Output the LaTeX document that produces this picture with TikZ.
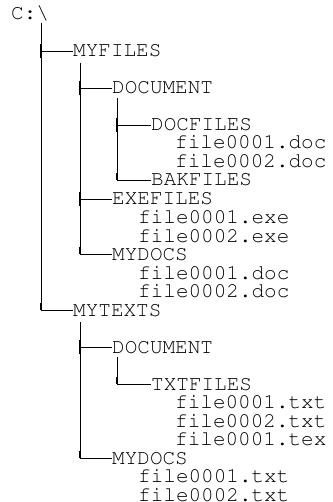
\documentclass[tikz,border=0pt]{standalone}
\usepackage[T1]{fontenc}
\newcommand\dirfont{\fontencoding{T1}\fontfamily{pcr}\fontseries{m}\fontshape{n}\fontsize{21}{21}\selectfont}
\tikzset{
  entry/.style={anchor=base west, inner sep=0pt, font=\dirfont, text height=12pt, text depth=0pt},
  tree/.style={line width=0.9pt, black},
  tick/.style={line width=2pt, black},
}
\begin{document}
\begin{tikzpicture}[x=1pt,y=1pt]
\useasboundingbox (0,0) rectangle (332,-502);

% directory entries
\node[entry] (root) at (11,-20) {C:\textbackslash};
\node[entry] (myfiles) at (73,-57) {MYFILES};
\node[entry] (document) at (112,-94) {DOCUMENT};
\node[entry] (docfiles) at (151,-131) {DOCFILES};
\node[entry] (dfa) at (175,-149) {file0001.doc};
\node[entry] (dfb) at (175,-168) {file0002.doc};
\node[entry] (bakfiles) at (151,-186) {BAKFILES};
\node[entry] (exefiles) at (112,-205) {EXEFILES};
\node[entry] (efa) at (138,-223) {file0001.exe};
\node[entry] (efb) at (138,-242) {file0002.exe};
\node[entry] (mydocs) at (112,-260) {MYDOCS};
\node[entry] (mfa) at (138,-279) {file0001.doc};
\node[entry] (mfb) at (138,-297) {file0002.doc};
\node[entry] (mytexts) at (73,-316) {MYTEXTS};
\node[entry] (tdocument) at (112,-353) {DOCUMENT};
\node[entry] (txtfiles) at (151,-390) {TXTFILES};
\node[entry] (tfa) at (175,-408) {file0001.txt};
\node[entry] (tfb) at (175,-427) {file0002.txt};
\node[entry] (tfc) at (175,-445) {file0001.tex};
\node[entry] (tmydocs) at (112,-464) {MYDOCS};
\node[entry] (tma) at (138,-482) {file0001.txt};
\node[entry] (tmb) at (138,-501) {file0002.txt};

% trunk tops
\coordinate (t0) at (41,-23);
\coordinate (t1) at (80,-63);
\coordinate (t2) at (117,-98);
\coordinate (t3) at (80,-322);
\coordinate (t4) at (117,-357);

% C:\
\draw[tree] (t0) |- (mytexts.west);
\draw[tree] (t0 |- myfiles.west) -- (myfiles.west);
\draw[tick] ([yshift=7pt]t0 |- myfiles.west) -- ([yshift=-7pt]t0 |- myfiles.west);
\draw[tick] ([yshift=7pt]t0 |- mytexts.west) -- (t0 |- mytexts.west);

% MYFILES
\draw[tree] (t1) |- (mydocs.west);
\draw[tree] (t1 |- document.west) -- (document.west);
\draw[tree] (t1 |- exefiles.west) -- (exefiles.west);
\draw[tick] ([yshift=7pt]t1 |- document.west) -- ([yshift=-7pt]t1 |- document.west);
\draw[tick] ([yshift=7pt]t1 |- exefiles.west) -- ([yshift=-7pt]t1 |- exefiles.west);
\draw[tick] ([yshift=7pt]t1 |- mydocs.west) -- (t1 |- mydocs.west);

% MYFILES\DOCUMENT
\draw[tree] (t2) |- (bakfiles.west);
\draw[tree] (t2 |- docfiles.west) -- (docfiles.west);
\draw[tick] ([yshift=7pt]t2 |- docfiles.west) -- ([yshift=-7pt]t2 |- docfiles.west);
\draw[tick] ([yshift=7pt]t2 |- bakfiles.west) -- (t2 |- bakfiles.west);

% MYTEXTS
\draw[tree] (t3) |- (tmydocs.west);
\draw[tree] (t3 |- tdocument.west) -- (tdocument.west);
\draw[tick] ([yshift=7pt]t3 |- tdocument.west) -- ([yshift=-7pt]t3 |- tdocument.west);
\draw[tick] ([yshift=7pt]t3 |- tmydocs.west) -- (t3 |- tmydocs.west);

% MYTEXTS\DOCUMENT
\draw[tree] (t4) |- (txtfiles.west);
\draw[tick] ([yshift=7pt]t4 |- txtfiles.west) -- (t4 |- txtfiles.west);
\end{tikzpicture}
\end{document}
